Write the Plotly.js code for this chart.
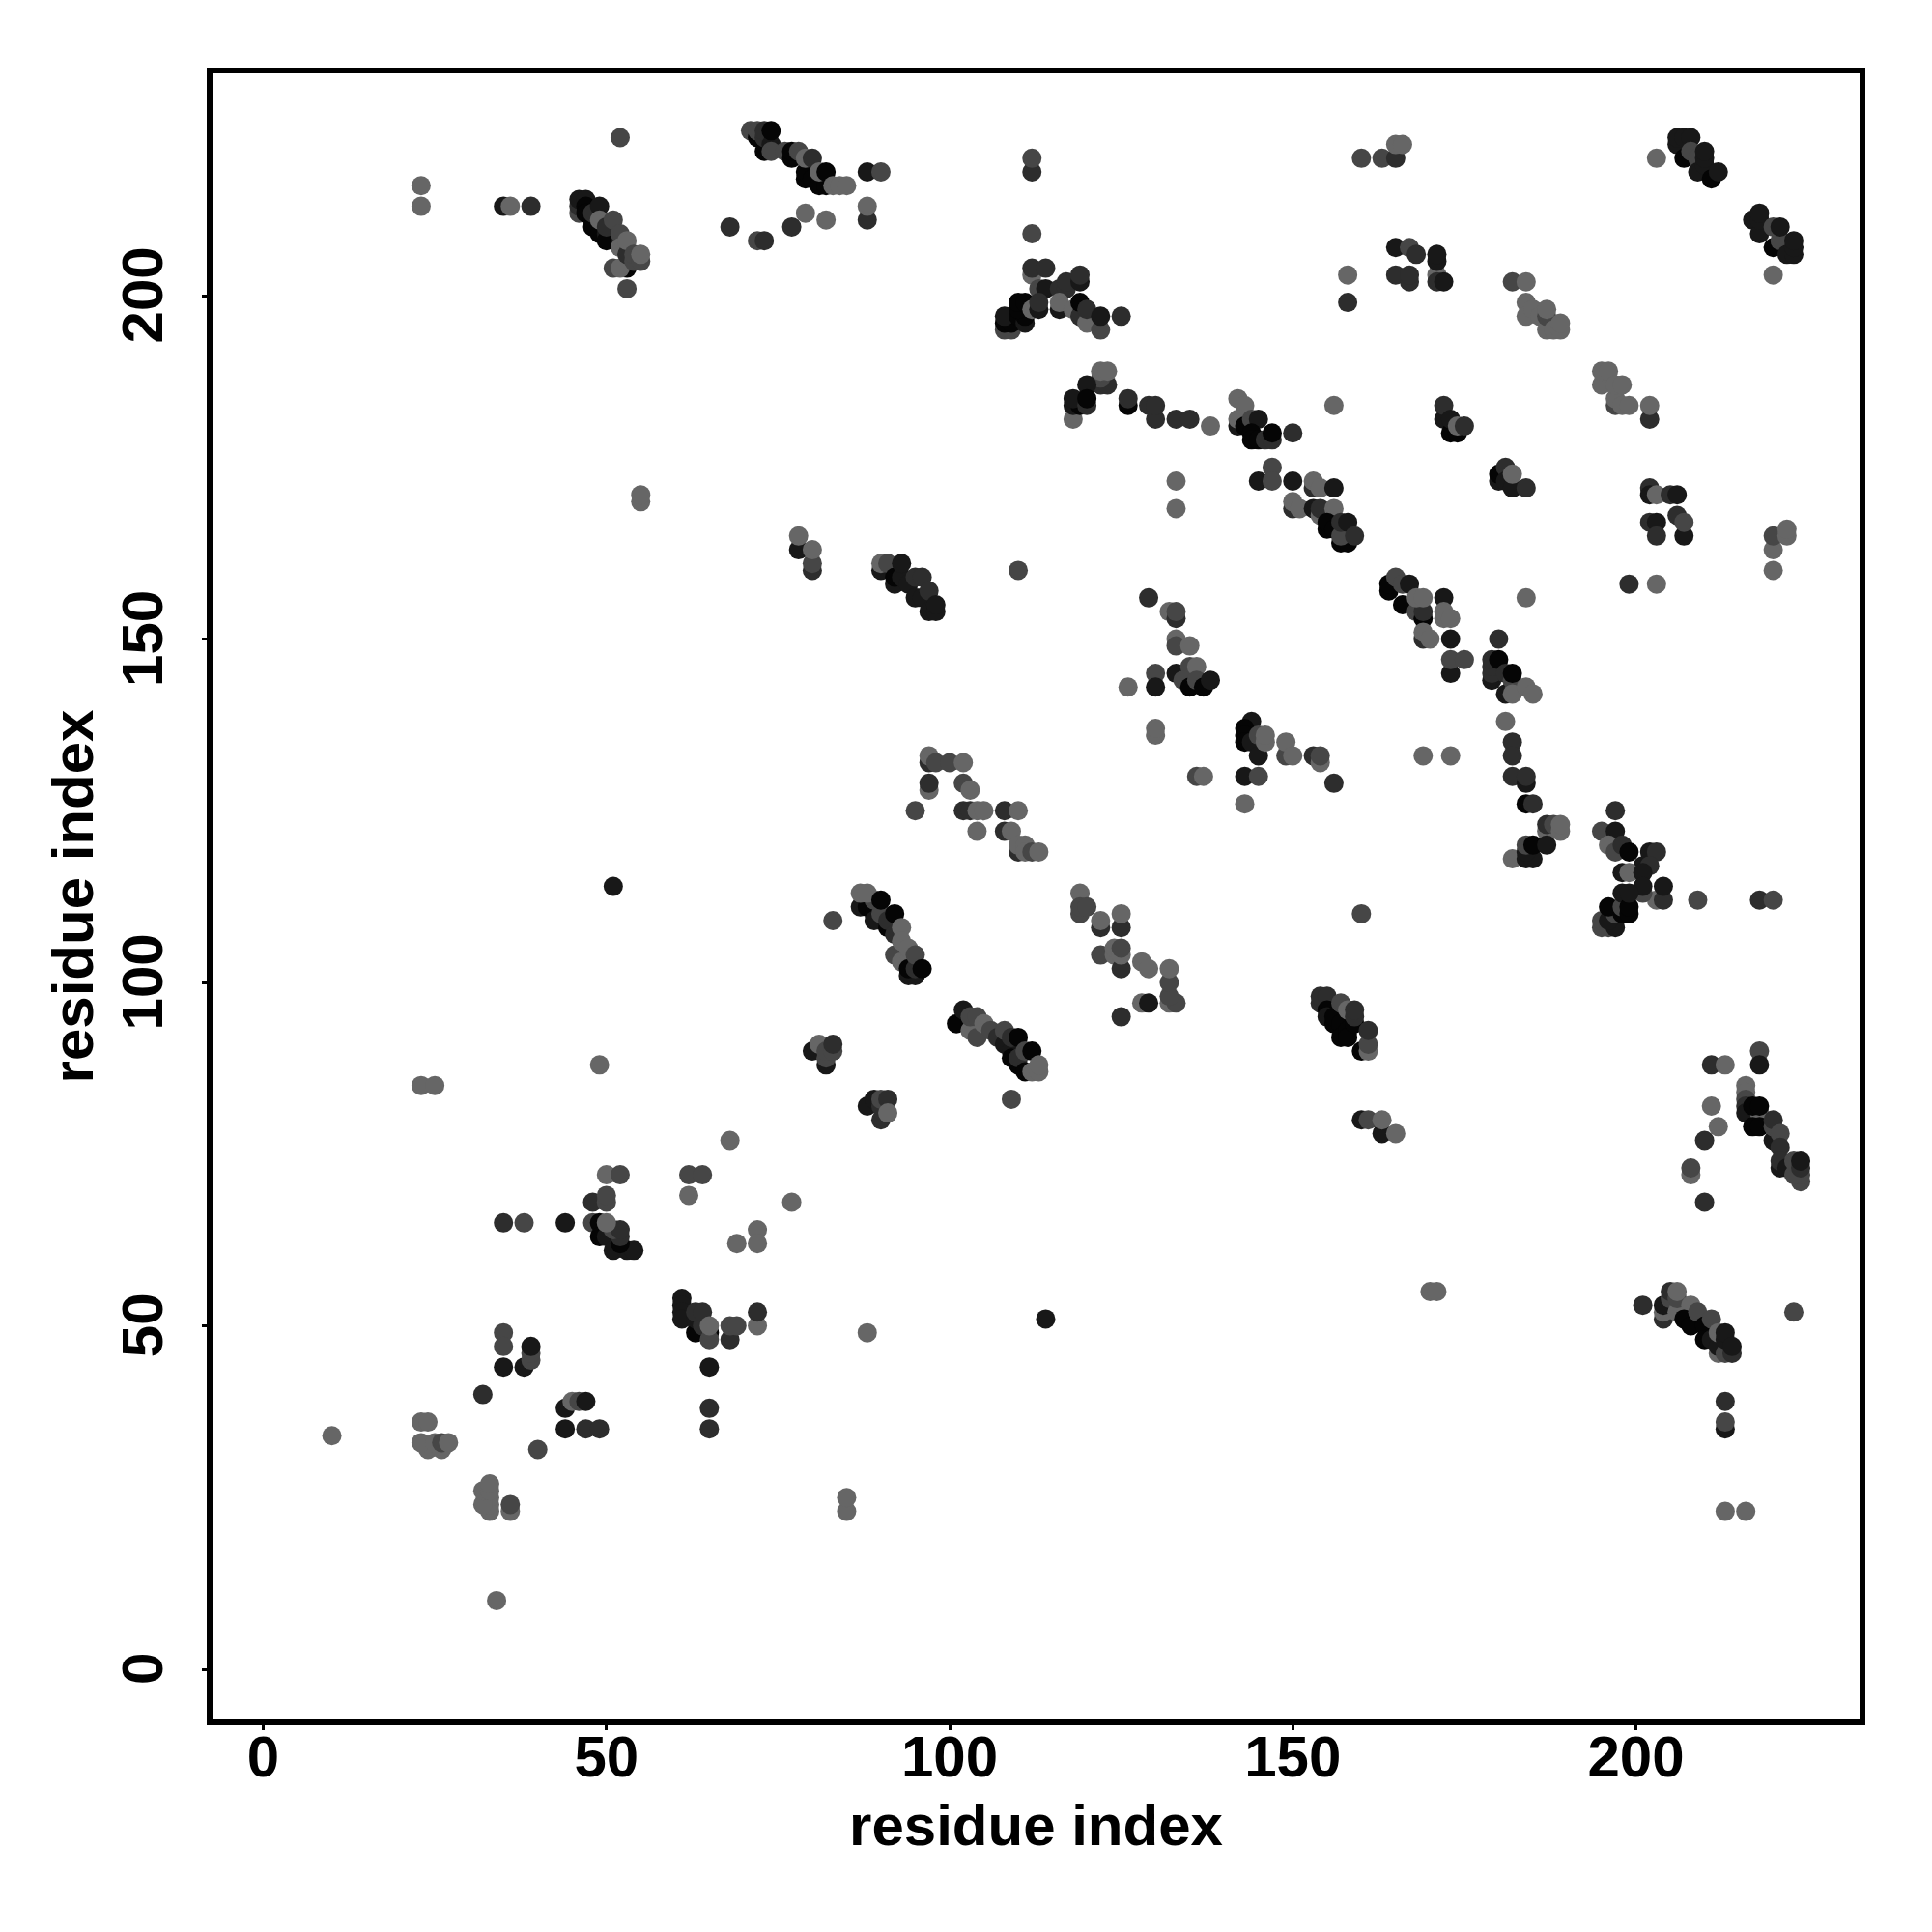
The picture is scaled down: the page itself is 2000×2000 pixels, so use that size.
<!DOCTYPE html>
<html><head><meta charset="utf-8">
<script src="https://cdn.plot.ly/plotly-3.0.1.min.js"></script>
<style>html,body{margin:0;padding:0;background:#fff}</style></head>
<body><div id="chart" style="width:2000px;height:2000px"></div>
<script>
const L=102,M=70,D=45,V=24,B=5;
const xTicks=[0,50,100,150,200];
const yTicks=[0,50,100,150,200];
const axisTitle="residue index";
const lowerLeft=[[10,34,L],[23,85,L],[25,85,L],[49,88,L],[68,77,L],[50,72,L],[52,72,M],[62,72,M],[64,72,M],[62,69,L],[77,68,L],[48,68,D],[50,68,M],[50,69,M],[35,65,D],[38,65,M],[44,65,V],
[48,65,M],[49,65,B],[49,63,B],[50,63,V],[51,61,V],[53,61,V],[54,61,V],[52,62,B],[52,63,D],[51,64,M],[52,64,D],[50,65,L],[72,64,L],[69,62,L],[72,62,L],[72,50,L],[72,52,D],[68,48,D],[68,50,M],[69,50,M],
[61,54,V],[61,53,V],[61,52,V],[61,51,V],[63,49,B],[65,49,B],[63,51,V],[64,50,D],[63,52,D],[64,52,D],[65,48,M],[65,50,L],[65,44,V],[65,38,D],[65,35,D],[88,49,L],
[35,49,M],[35,47,M],[35,44,V],[38,44,V],[39,45,M],[39,46,M],[39,47,V],[32,40,D],[44,38,V],[45,39,L],[46,39,M],[47,39,V],[44,35,V],[47,35,D],[49,35,D],
[23,36,L],[24,36,L],[24,32,L],[26,32,L],[23,33,L],[25,33,L],[26,33,M],[27,33,L],[40,32,M],[33,23,L],[33,24,L],[33,25,L],[32,24,L],[32,26,L],[33,26,L],[33,27,L],[36,23,L],[36,24,M],[85,23,L],[85,25,L],[34,10,L]];
const helixA=[[80,90,V],[82,88,V],[81,91,L],[82,89,M],[82,90,M],[83,90,M],[83,91,D],[88,82,V],[89,83,V],[90,80,D],[90,82,D],[90,83,M],[91,83,D],[91,81,L],[83,109,M],
[87,111,V],[88,111,B],[89,110,B],[90,109,B],[89,109,V],[91,108,B],[89,112,M],[87,113,L],[88,113,L],[90,110,M],[91,109,D],[90,112,B],[92,110,B],[92,107,D],[93,108,L],[92,104,M],[93,103,L],[94,103,L],[93,106,L],[94,105,L],[94,101,V],[95,101,V],[94,102,B],[95,102,D],[95,104,M],[96,102,B],
[101,94,B],[102,96,V],[103,94,B],[103,93,L],[103,95,M],[104,92,M],[104,95,M],[105,94,L],[106,93,M],[107,92,D],[108,91,V],[109,90,V],[109,89,B],[110,88,B],[108,93,M],[109,92,D],[110,92,B],[110,89,D],[111,87,B],[111,90,M],[112,90,B],[112,87,L],[113,87,L],[113,88,L],[109,83,M]];
const topLeft=[[52,223,M],[23,216,L],[23,213,L],[35,213,V],[36,213,L],[39,213,D],[46,212,M],[46,213,D],[46,214,V],[47,214,V],[47,213,B],[47,212,B],[48,211,B],[48,210,B],[48,212,D],[49,209,B],[49,213,V],[49,211,L],[50,209,V],[50,208,B],[50,210,D],[51,211,M],[52,208,V],[52,209,M],[53,204,B],[51,204,M],[52,204,L],[52,207,L],[53,206,D],[53,208,L],[54,205,M],[54,206,M],[55,205,M],[55,206,L],[53,201,M],
[71,224,M],[72,223,B],[72,224,M],[73,221,B],[73,223,D],[73,224,D],[74,222,V],[74,224,B],[74,221,M],[76,221,M],[77,220,B],[77,221,B],[78,221,M],[79,217,B],[79,218,B],[79,220,L],[80,220,D],[80,217,B],[81,216,B],[82,216,B],[81,218,L],[82,218,B],[83,216,L],[84,216,L],[85,216,L],[88,218,V],[90,218,M],[88,211,D],[88,213,L],[82,211,L],[79,212,L],[77,210,D],[68,210,D],[72,208,M],[73,208,D],
[55,170,L],[55,171,L],[78,163,V],[78,165,L],[80,160,D],[80,161,M],[80,163,L],[90,160,V],[90,161,L],[91,161,M],[92,158,V],[92,159,B],[93,159,V],[93,161,V],[94,158,V],[95,156,V],[95,159,D],[96,156,V],[96,159,D],[97,157,D],[97,154,V],[98,154,V],[98,155,V],[51,114,V]];
const midLeft=[[97,132,D],[97,133,L],[98,132,M],[100,132,M],[102,132,L],[97,128,L],[97,129,D],[95,125,M],[102,125,D],[102,129,M],[103,128,L],[103,125,D],[104,125,L],[105,125,L],[104,122,L],[108,125,D],[110,125,L],[108,122,D],[109,122,L],[110,119,D],[110,120,L],[111,120,L],[111,119,L],[112,119,M],[113,119,L],[110,160,M],
[119,113,L],[119,110,M],[119,111,M],[120,111,M],[122,108,D],[122,109,L],[125,108,D],[125,110,L],[122,104,M],[124,104,L],[124,105,L],[125,102,D],[125,104,L],[125,105,M],[125,95,D],[128,103,L],[129,102,L],[128,97,L],[129,97,V],[132,97,L],[133,97,M],[132,98,M],[132,100,M],[132,102,L]];
const crownA=[[112,203,L],[112,204,D],[114,204,D],[112,209,M],[112,218,D],[112,220,M],[113,201,M],[114,201,V],[116,201,D],[117,201,D],[117,202,D],[119,202,V],[119,203,D],[108,195,M],[109,195,M],[108,196,B],[109,196,B],[108,197,V],[110,197,B],[111,196,V],[111,197,B],[110,198,B],[110,199,B],[111,199,B],[112,198,L],[113,198,V],[113,199,D],[116,198,V],[116,199,L],[118,198,L],[119,197,D],[119,199,B],[120,196,L],[120,198,D],[122,195,M],[122,197,V],[125,197,D],
[122,187,D],[123,187,D],[122,188,M],[122,189,L],[123,189,L],[120,187,V],[118,182,L],[118,184,V],[119,184,B],[118,185,V],[120,184,D],[120,185,B],[126,184,B],[126,185,D],[129,184,D],[130,182,D],[130,184,D],[133,182,D],[135,182,D],[138,181,L],
[142,185,L],[143,184,L],[142,181,V],[142,182,L],[143,181,B],[144,182,M],[145,182,V],[144,180,B],[144,179,B],[145,179,B],[146,179,D],[147,179,D],[147,180,B],[150,180,D],[156,184,L],[158,203,L],[158,199,D]];
const diagonalA=[[147,175,M],[145,173,V],[147,173,M],[150,173,V],[153,172,D],[153,173,L],[154,172,L],[156,172,V],[133,173,L],[133,169,L],[150,169,D],[150,170,L],[151,169,L],[153,169,V],[154,168,L],[154,169,D],[156,169,L],[155,166,B],[155,167,B],[156,166,B],[157,164,B],[158,164,B],[157,165,M],[157,167,D],[158,167,V],[159,165,D],
[164,157,B],[164,158,B],[165,159,M],[166,155,B],[166,158,M],[167,158,V],[168,154,M],[169,153,B],[169,154,D],[168,156,L],[169,156,L],[172,156,V],[172,153,L],[172,154,L],[173,153,L],[169,150,D],[169,151,L],[170,150,L],[173,150,V],[173,145,V],[173,147,M],[175,147,M],[184,156,L],[169,133,L],[173,133,L],
[180,150,D],[179,144,V],[179,145,D],[179,146,D],[179,147,D],[180,147,B],[181,142,V],[181,145,D],[182,143,V],[182,144,M],[182,145,B],[182,142,L],[184,143,L],[185,142,L],[181,138,L],[182,135,D],[182,133,D],[182,130,D],[184,129,V],[184,130,D],[184,126,B],[185,126,D],[187,122,L],[187,123,D],[188,123,M],[189,122,L],[189,123,L],[182,118,L],[184,118,V],[185,118,V],[184,119,V],[184,120,M],[185,120,B],[187,120,V]];
const middleSet=[[129,156,D],[132,154,L],[133,153,D],[133,154,M],[133,150,L],[133,149,M],[135,149,L],[130,145,M],[130,143,V],[126,143,L],[133,145,V],[135,146,M],[136,146,L],[134,144,M],[135,143,B],[136,144,M],[137,143,B],[138,144,V],[130,136,L],[130,137,L],
[144,138,V],[143,137,B],[143,136,B],[143,135,B],[144,135,V],[145,133,V],[145,136,M],[146,135,L],[146,136,L],[149,133,M],[149,135,L],[150,133,L],[153,133,D],[154,132,L],[154,133,M],[143,130,V],[145,130,M],[156,129,D],[143,126,L],[136,130,M],[137,130,L],
[154,97,D],[154,98,D],[155,98,D],[155,96,B],[155,95,V],[156,94,B],[156,95,B],[157,94,B],[157,92,B],[157,97,M],[158,93,B],[158,92,B],[158,96,L],[159,94,B],[159,95,D],[159,96,D],[160,90,B],[161,90,L],[161,91,M],[161,93,D],[160,110,M],[160,80,V],[161,80,M],[163,78,V],[163,80,L],[165,78,L],[170,55,L],[171,55,L],[114,51,V]];
const topRight=[[160,220,M],[163,220,M],[165,220,D],[165,222,L],[166,222,L],[203,220,L],[206,222,V],[206,223,V],[207,220,B],[207,223,V],[208,223,V],[208,221,M],[209,220,M],[209,218,V],[210,219,V],[210,220,V],[210,221,V],[211,217,B],[212,218,V],
[217,211,V],[218,209,V],[218,211,V],[218,212,V],[220,207,B],[220,210,M],[221,208,M],[221,210,V],[222,206,V],[223,206,V],[223,207,V],[223,208,V],[220,203,L],
[165,203,D],[165,207,V],[167,202,D],[167,203,D],[167,207,M],[168,206,D],[171,203,L],[171,205,V],[171,206,V],[171,202,D],[172,202,V],[182,202,M],[184,202,L],[184,199,L],[184,197,L],[185,198,L],[186,197,L],[187,195,L],[187,197,M],[187,198,L],[188,195,L],[189,195,L],[189,196,L],
[195,187,L],[195,189,L],[196,189,L],[197,184,M],[197,185,L],[197,187,L],[198,184,L],[198,187,L],[199,184,L],[202,182,D],[202,184,L],[172,182,V],[172,184,D],[173,180,B],[174,180,B],[173,182,V],[174,181,L],[175,181,D],
[180,173,V],[180,174,B],[181,175,D],[181,173,V],[182,172,V],[182,174,L],[184,172,D],[202,172,D],[202,171,V],[203,171,L],[205,171,D],[206,171,V],[202,167,D],[203,167,V],[203,165,D],[206,168,D],[207,165,V],[207,167,M],[199,158,D],[203,158,L],[220,160,L],[220,163,L],[220,165,M],[222,165,L],[222,166,L]];
const rightSet=[[197,125,D],[195,122,M],[197,122,V],[196,120,L],[197,119,M],[198,120,D],[199,119,B],[202,119,V],[203,119,D],[201,117,V],[202,117,D],[198,116,V],[199,116,L],[201,116,V],[203,112,L],[201,113,M],[201,114,V],[204,112,D],[204,114,V],[209,112,M],[218,112,D],[220,112,M],
[195,108,M],[195,109,M],[196,108,M],[197,108,V],[196,109,V],[197,110,M],[198,110,B],[196,111,B],[198,111,M],[198,113,V],[199,110,B],[199,111,B],[199,113,V],
[211,88,D],[213,88,L],[218,90,M],[218,88,V],[216,85,L],[216,84,L],[216,83,M],[216,82,D],[216,81,V],[218,81,L],[217,79,B],[218,79,B],[217,82,B],[218,82,B],[220,77,V],[220,79,M],[220,80,D],[221,78,M],[221,76,D],[221,73,V],[221,74,D],[222,73,V],[224,71,M],[224,72,M],[223,72,M],[223,74,M],[224,73,D],[224,74,V],[211,82,L],[212,79,L],[210,77,D],[208,72,L],[208,73,M],[210,68,D],
[201,53,D],[204,51,D],[204,52,L],[204,53,V],[205,54,M],[205,55,D],[206,52,L],[206,54,M],[206,55,L],[208,53,L],[207,51,B],[208,50,B],[209,52,M],[210,50,B],[210,48,B],[211,51,M],[211,48,V],[212,46,L],[212,47,V],[212,49,L],[213,46,M],[213,48,V],[213,49,V],[214,46,D],[214,47,V],[223,52,M],[213,35,V],[213,36,M],[213,39,D],[213,23,L],[216,23,L]];

const points=[].concat(lowerLeft,helixA,topLeft,midLeft,crownA,diagonalA,middleSet,topRight,rightSet);
const font={family:'"Liberation Sans",Arial,sans-serif',size:60,weight:700,color:'#000'};
const axisBase={showgrid:false,zeroline:false,showline:true,mirror:true,linecolor:'#000',linewidth:6,ticks:'outside',ticklen:5,tickwidth:3,tickcolor:'#000',tickfont:font,tickmode:'array'};
Plotly.newPlot('chart',[{type:'scatter',mode:'markers',x:points.map(p=>p[0]),y:points.map(p=>p[1]),
 marker:{size:20,color:points.map(p=>`rgb(${p[2]},${p[2]},${p[2]})`),line:{width:0}},hoverinfo:'skip',showlegend:false,cliponaxis:false}],
{width:2000,height:2000,autosize:false,paper_bgcolor:'#fff',plot_bgcolor:'#fff',showlegend:false,
 margin:{l:220,r:75,t:76,b:220,pad:0},
 xaxis:Object.assign({},axisBase,{range:[-7.39,232.58],tickvals:xTicks,ticktext:xTicks.map(String),ticklabelstandoff:-24,title:{text:axisTitle,font:font,standoff:19}}),
 yaxis:Object.assign({},axisBase,{range:[-7.31,232.35],tickvals:yTicks,ticktext:yTicks.map(v=>v+'\u00A0'),tickangle:-90,ticklabelstandoff:17,title:{text:axisTitle,font:font,standoff:0}})
},{staticPlot:true,displayModeBar:false});
</script></body></html>
